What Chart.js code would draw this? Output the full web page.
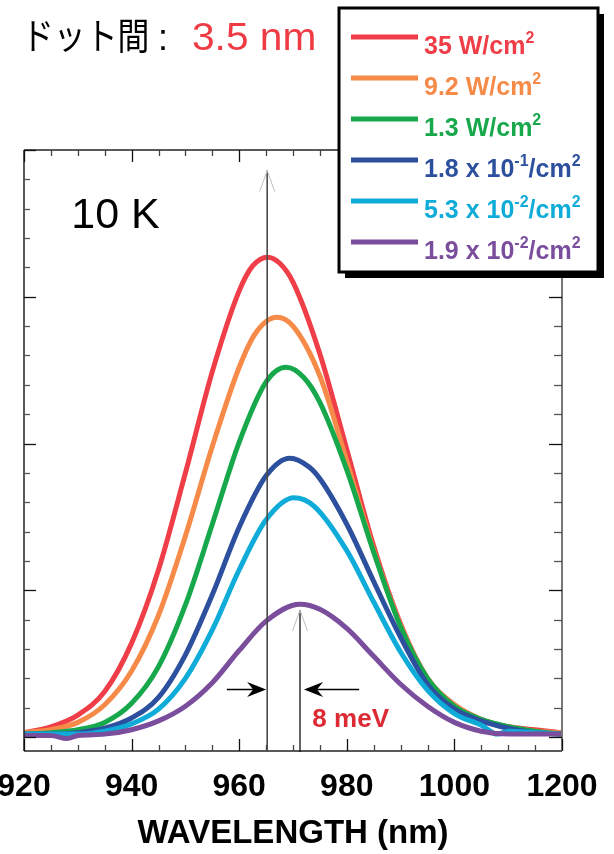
<!DOCTYPE html>
<html>
<head>
<meta charset="utf-8">
<script src="https://cdn.jsdelivr.net/npm/chart.js@4.4.1/dist/chart.umd.min.js"></script>
<style>
  html, body { margin: 0; padding: 0; background: #fff; }
  #wrap { position: relative; width: 614px; height: 854px; }
</style>
</head>
<body>
<div id="wrap"><canvas id="plChart" width="614" height="854"></canvas></div>
<script>
// ---- data (wavelength in nm, PL intensity in arb. units) ----
const nmRed    = [920, 925, 930, 935, 940, 945, 950, 955, 960, 962.5, 965.3, 967.5, 970, 975, 980, 985, 990, 995, 1000, 1005, 1010, 1015, 1020];
const plRed    = [0.03, 0.07, 0.15, 0.31, 0.64, 1.14, 1.80, 2.49, 3.04, 3.21, 3.27, 3.23, 3.10, 2.61, 1.96, 1.30, 0.77, 0.40, 0.22, 0.12, 0.07, 0.05, 0.03];

const nmOrange = [920, 925, 930, 935, 940, 945, 950, 955, 960, 963, 967, 970, 975, 980, 985, 990, 995, 1000, 1005, 1010, 1015, 1020];
const plOrange = [0.03, 0.05, 0.10, 0.22, 0.45, 0.83, 1.37, 1.98, 2.52, 2.75, 2.86, 2.80, 2.46, 1.88, 1.27, 0.76, 0.40, 0.22, 0.12, 0.07, 0.04, 0.03];

const nmGreen  = [920, 925, 930, 935, 940, 945, 950, 955, 960, 965, 968.7, 972, 975, 980, 985, 990, 995, 1000, 1005, 1010, 1015, 1020];
const plGreen  = [0.02, 0.03, 0.05, 0.10, 0.23, 0.48, 0.90, 1.45, 2.01, 2.42, 2.52, 2.45, 2.28, 1.82, 1.26, 0.75, 0.40, 0.21, 0.12, 0.07, 0.04, 0.02];

const nmBlue   = [920, 925, 930, 935, 940, 945, 950, 955, 960, 965, 969.4, 973, 975, 980, 985, 990, 995, 1000, 1005, 1010, 1015, 1020];
const plBlue   = [0.02, 0.02, 0.03, 0.06, 0.13, 0.27, 0.56, 0.97, 1.43, 1.78, 1.90, 1.84, 1.76, 1.45, 1.06, 0.68, 0.36, 0.19, 0.11, 0.06, 0.03, 0.02];

const nmCyan   = [920, 925, 930, 935, 940, 945, 950, 955, 960, 965, 970.2, 974, 980, 985, 990, 995, 1000, 1005, 1008, 1010, 1015, 1020];
const plCyan   = [0.02, 0.02, 0.02, 0.04, 0.09, 0.19, 0.40, 0.73, 1.14, 1.48, 1.63, 1.57, 1.27, 0.92, 0.58, 0.32, 0.16, 0.08, 0.02, 0.04, 0.03, 0.02];

const nmPurple = [920, 925, 928, 930, 935, 940, 945, 950, 955, 960, 965, 971.3, 975, 980, 985, 990, 995, 1000, 1005, 1010, 1015, 1020];
const plPurple = [0.01, 0.01, -0.01, 0.01, 0.02, 0.05, 0.11, 0.21, 0.37, 0.59, 0.79, 0.905, 0.87, 0.74, 0.55, 0.36, 0.21, 0.10, 0.04, 0.02, 0.02, 0.02];

// legend text, pieces starting with ^ are superscripts
const legendParts = [
    ['35 W/cm', '^2'],
    ['9.2 W/cm', '^2'],
    ['1.3 W/cm', '^2'],
    ['1.8 x 10', '^-1', '/cm', '^2'],
    ['5.3 x 10', '^-2', '/cm', '^2'],
    ['1.9 x 10', '^-2', '/cm', '^2']
];
const seriesColors = ['#ef3e47', '#f68a48', '#17a84c', '#2c4f9e', '#10acd9', '#7a4e9d'];

// x axis ticks (the last label really reads 1200 in the original)
const tickNm     = [920, 940, 960, 980, 1000, 1020];
const tickLabels = ['920', '940', '960', '980', '1000', '1200'];

// peak markers and the 8 meV shift
const peakNm = [965.2, 971.3];
const FONT = "'Liberation Sans', Arial, Helvetica, sans-serif";

function toPoints(xs, ys) {
    return xs.map((v, i) => ({ x: v, y: ys[i] }));
}

const seriesData = [
    toPoints(nmRed, plRed),
    toPoints(nmOrange, plOrange),
    toPoints(nmGreen, plGreen),
    toPoints(nmBlue, plBlue),
    toPoints(nmCyan, plCyan),
    toPoints(nmPurple, plPurple)
];

function line(ctx, x1, y1, x2, y2) {
    ctx.beginPath();
    ctx.moveTo(x1, y1);
    ctx.lineTo(x2, y2);
    ctx.stroke();
}

// filled "stealth" arrow head, dir = 1 points right, -1 points left
function arrowHead(ctx, tx, ty, dir) {
    const L = 19, H = 7.5, N = 6;
    ctx.beginPath();
    ctx.moveTo(tx, ty);
    ctx.lineTo(tx - dir * L, ty - H);
    ctx.lineTo(tx - dir * (L - N), ty);
    ctx.lineTo(tx - dir * L, ty + H);
    ctx.closePath();
    ctx.fill();
}

// open grey arrow head on top of a vertical line
function openHead(ctx, x, y) {
    ctx.save();
    ctx.strokeStyle = '#bdbdbd';
    ctx.lineWidth = 1;
    ctx.beginPath();
    ctx.moveTo(x - 7.5, y + 21);
    ctx.lineTo(x, y);
    ctx.lineTo(x + 7.5, y + 21);
    ctx.stroke();
    ctx.restore();
}

const overlay = {
    id: 'overlay',
    afterDatasetsDraw(chart) {
        const { ctx, chartArea: a, scales: { x, y } } = chart;
        ctx.save();

        // frame
        ctx.strokeStyle = '#222';
        ctx.lineWidth = 1.5;
        line(ctx, a.left, a.top, a.left, a.bottom);
        line(ctx, a.left, a.bottom, a.right, a.bottom);
        line(ctx, a.left, a.top, a.right, a.top);
        ctx.strokeStyle = '#777';
        ctx.lineWidth = 2;
        line(ctx, a.right, a.top, a.right, a.bottom);

        // inward ticks, x every 5 nm, y every 0.2
        ctx.lineWidth = 1.3;
        for (let v = 920; v <= 1020; v += 5) {
            const px = Math.round(x.getPixelForValue(v)) + 0.5;
            const major = (v - 920) % 20 === 0;
            const len = major ? 12 : 6;
            ctx.strokeStyle = major ? '#111' : '#444';
            line(ctx, px, a.bottom, px, a.bottom - len);
            line(ctx, px, a.top, px, a.top + len);
        }
        for (let i = 0; i <= 20; i++) {
            const v = i * 0.2;
            const py = Math.round(y.getPixelForValue(v)) + 0.5;
            const major = i % 5 === 0;
            ctx.strokeStyle = major ? '#111' : '#555';
            line(ctx, a.left, py, a.left + (major ? 12 : 6), py);
            line(ctx, a.right, py, a.right - (major ? 13 : 8), py);
        }

        // peak markers
        const x1 = x.getPixelForValue(peakNm[0]);
        const x2 = x.getPixelForValue(peakNm[1]);
        ctx.strokeStyle = '#4a4a4a';
        ctx.lineWidth = 1.6;
        line(ctx, x1, y.getPixelForValue(3.86), x1, a.bottom);
        openHead(ctx, x1, y.getPixelForValue(3.86));
        ctx.strokeStyle = '#111';
        ctx.lineWidth = 1.3;
        line(ctx, x2, y.getPixelForValue(0.865), x2, a.bottom + 1);
        openHead(ctx, x2, y.getPixelForValue(0.865));

        // 8 meV arrows
        const ay = Math.round(y.getPixelForValue(0.33)) + 0.5;
        ctx.fillStyle = '#000';
        ctx.strokeStyle = '#000';
        ctx.lineWidth = 1.3;
        line(ctx, x.getPixelForValue(957.7), ay, x1 - 6, ay);
        arrowHead(ctx, x1 - 1, ay, 1);
        line(ctx, x.getPixelForValue(982.3), ay, x2 + 8, ay);
        arrowHead(ctx, x2 + 4, ay, -1);

        ctx.fillStyle = '#dc2b34';
        ctx.font = 'bold 26px ' + FONT;
        ctx.textBaseline = 'alphabetic';
        ctx.fillText('8 meV', x.getPixelForValue(973.6), y.getPixelForValue(0.07));

        // temperature
        ctx.fillStyle = '#000';
        ctx.font = '43px ' + FONT;
        ctx.fillText('10 K', x.getPixelForValue(928.8), y.getPixelForValue(3.47));

        // heading (slightly condensed Japanese, wider digits as in the original)
        ctx.save();
        ctx.translate(22, 50);
        ctx.scale(0.86, 1);
        ctx.fillStyle = '#000';
        ctx.font = "37px 'Noto Sans CJK JP', sans-serif";
        ctx.fillText('ドット間', 0, 0);
        ctx.restore();
        ctx.fillStyle = '#000';
        ctx.font = '36px ' + FONT;
        ctx.fillText(':', 158, 50);
        ctx.save();
        ctx.translate(192, 50);
        ctx.scale(1.07, 1);
        ctx.fillStyle = '#ee3b44';
        ctx.font = '38px ' + FONT;
        ctx.fillText('3.5 nm', 0, 0);
        ctx.restore();

        // legend box with drop shadow
        const bx = 339, by = 8, bw = 259, bh = 264;
        ctx.fillStyle = '#000';
        ctx.fillRect(bx + 6, by + 6, bw, bh);
        ctx.fillStyle = '#fff';
        ctx.fillRect(bx, by, bw, bh);
        ctx.strokeStyle = '#000';
        ctx.lineWidth = 3;
        ctx.strokeRect(bx, by, bw, bh);

        legendParts.forEach((parts, i) => {
            const ly = 37 + i * 41;
            ctx.strokeStyle = seriesColors[i];
            ctx.lineWidth = 5;
            line(ctx, 351, ly, 418, ly);
            ctx.fillStyle = seriesColors[i];
            let tx = 424;
            parts.forEach(p => {
                if (p[0] === '^') {
                    ctx.font = 'bold 16px ' + FONT;
                    ctx.fillText(p.slice(1), tx, ly + 6);
                    tx += ctx.measureText(p.slice(1)).width;
                } else {
                    ctx.font = 'bold 25px ' + FONT;
                    ctx.fillText(p, tx, ly + 17);
                    tx += ctx.measureText(p).width;
                }
            });
        });

        ctx.restore();
    }
};

new Chart(document.getElementById('plChart'), {
    type: 'line',
    data: {
        datasets: seriesData.map((d, i) => ({
            data: d,
            borderColor: seriesColors[i],
            borderWidth: 5,
            pointRadius: 0,
            fill: false,
            cubicInterpolationMode: 'monotone',
            order: 5 - i
        }))
    },
    options: {
        responsive: false,
        animation: false,
        layout: { padding: { left: 24, right: 52, top: 150, bottom: 0 } },
        plugins: {
            legend: { display: false },
            tooltip: { enabled: false }
        },
        scales: {
            x: {
                type: 'linear',
                min: 920,
                max: 1020,
                afterFit(scale) {
                    scale.paddingLeft = 0;
                    scale.paddingRight = 0;
                    scale.height = 103;
                },
                afterBuildTicks(scale) {
                    scale.ticks = tickNm.map(v => ({ value: v }));
                },
                ticks: {
                    autoSkip: false,
                    maxRotation: 0,
                    padding: 17,
                    color: '#000',
                    font: { family: FONT, size: 32, weight: 'bold' },
                    callback: (v) => tickLabels[tickNm.indexOf(v)]
                },
                grid: { display: false, drawTicks: false },
                border: { display: false },
                title: {
                    display: true,
                    text: 'WAVELENGTH (nm)',
                    color: '#000',
                    font: { family: FONT, size: 33, weight: 'bold' },
                    padding: { top: 5, bottom: 0 }
                }
            },
            y: {
                display: false,
                min: -0.095,
                max: 4
            }
        }
    },
    plugins: [overlay]
});
</script>
</body>
</html>
